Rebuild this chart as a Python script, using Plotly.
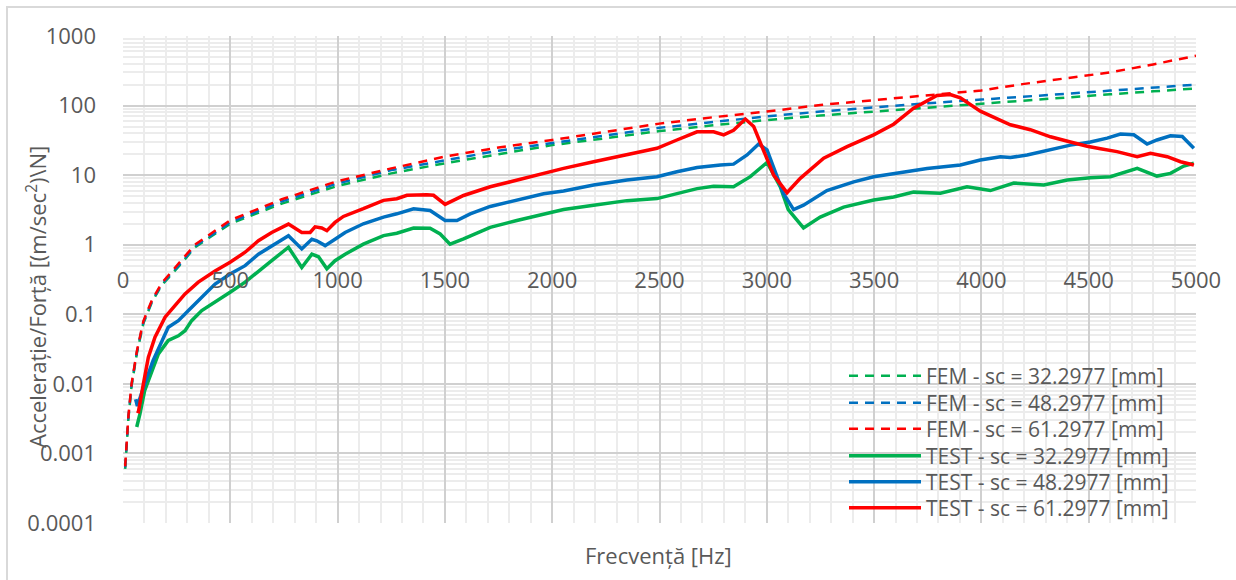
import plotly.graph_objects as go

# ---------------- data ----------------
fem_f = [10, 25, 40, 65, 95, 135, 180, 275, 335, 500, 740, 1000, 1250, 1500, 1750,
         2000, 2250, 2500, 2750, 3000, 3250, 3500, 3750, 4000, 4200, 4400, 4600, 4800, 5000]
fem_32 = [0.0006, 0.0031, 0.0094, 0.028, 0.074, 0.15, 0.26, 0.55, 0.92, 2.0, 3.9, 7.0, 10.6,
          14.8, 20, 27, 34, 43, 52, 62, 72, 82, 95, 108, 118, 131, 145, 160, 176]
fem_48 = [0.00063, 0.0033, 0.0098, 0.029, 0.077, 0.155, 0.27, 0.57, 0.95, 2.1, 4.2, 7.6, 11.8,
          16.5, 22.5, 29, 37, 48, 58, 70, 82, 95, 108, 122, 133, 148, 164, 182, 200]
fem_61 = [0.00065, 0.0034, 0.010, 0.030, 0.08, 0.16, 0.28, 0.6, 1.0, 2.25, 4.5, 8.2, 12.5,
          18.5, 25, 32, 42, 55, 68, 82, 102, 120, 143, 165, 205, 245, 300, 390, 520]

test32_f = [64, 79, 101, 134, 165, 211, 258, 289, 320, 367, 429, 499, 569, 631, 693, 771, 833,
            880, 911, 950, 988, 1035, 1120, 1214, 1276, 1354, 1431, 1478, 1524, 1587, 1711, 1835,
            1960, 2053, 2193, 2348, 2488, 2581, 2675, 2752, 2845, 2923, 3001, 3063, 3100, 3171,
            3249, 3358, 3498, 3591, 3684, 3809, 3933, 4042, 4151, 4291, 4400, 4508, 4601, 4726,
            4818, 4881, 4943, 4990]
test32_v = [0.0024, 0.0037, 0.008, 0.0155, 0.027, 0.042, 0.049, 0.058, 0.081, 0.113, 0.148, 0.207,
            0.29, 0.42, 0.59, 0.92, 0.47, 0.73, 0.67, 0.45, 0.59, 0.73, 1.02, 1.35, 1.46, 1.74,
            1.73, 1.43, 1.02, 1.21, 1.78, 2.23, 2.78, 3.2, 3.7, 4.3, 4.6, 5.5, 6.4, 6.9, 6.8, 9.5,
            15.2, 6.8, 3.2, 1.74, 2.49, 3.47, 4.4, 4.85, 5.7, 5.5, 6.8, 6.0, 7.7, 7.2, 8.5, 9.2,
            9.5, 12.5, 9.7, 10.6, 13.5, 14.8]

test48_f = [59, 67, 101, 140, 211, 258, 305, 367, 429, 499, 569, 631, 693, 771, 833, 880, 903,
            942, 988, 1035, 1120, 1214, 1276, 1354, 1431, 1501, 1556, 1618, 1711, 1835, 1960,
            2053, 2193, 2348, 2488, 2581, 2675, 2784, 2845, 2908, 2962, 3001, 3047, 3078, 3125,
            3171, 3280, 3405, 3498, 3591, 3747, 3902, 3995, 4089, 4135, 4213, 4322, 4415, 4508,
            4586, 4648, 4710, 4772, 4818, 4881, 4936, 4990]
test48_v = [0.006, 0.0048, 0.01, 0.0216, 0.065, 0.081, 0.113, 0.175, 0.272, 0.38, 0.50, 0.73,
            0.97, 1.35, 0.87, 1.2, 1.14, 0.97, 1.2, 1.5, 2.0, 2.49, 2.78, 3.29, 3.1, 2.23, 2.23,
            2.78, 3.55, 4.34, 5.4, 5.9, 7.2, 8.5, 9.5, 11.2, 12.9, 14, 14.4, 19.5, 28, 23, 9.5,
            5.4, 3.2, 3.7, 6.0, 8.0, 9.5, 10.6, 12.5, 14, 16.5, 18.4, 17.9, 19.5, 23, 27, 30,
            34, 39, 38, 28, 32, 36.7, 36, 24.3]

test61_f = [64, 72, 95, 118, 149, 196, 242, 289, 351, 429, 499, 569, 631, 693, 771, 833, 872,
            895, 926, 950, 988, 1027, 1120, 1214, 1276, 1323, 1416, 1447, 1501, 1587, 1711, 1835,
            1960, 2053, 2193, 2348, 2488, 2581, 2675, 2752, 2799, 2845, 2900, 2939, 2985, 3032,
            3094, 3156, 3265, 3374, 3498, 3591, 3684, 3793, 3855, 3902, 3995, 4042, 4135, 4228,
            4322, 4415, 4493, 4555, 4632, 4726, 4788, 4866, 4928, 4990]
test61_v = [0.0041, 0.0040, 0.01, 0.024, 0.047, 0.091, 0.133, 0.196, 0.29, 0.42, 0.56, 0.78,
            1.14, 1.5, 1.98, 1.5, 1.5, 1.81, 1.74, 1.59, 2.09, 2.55, 3.29, 4.34, 4.58, 5.13,
            5.24, 5.13, 3.8, 5.1, 6.8, 8.5, 10.5, 12.5, 15.6, 19.5, 24.3, 32, 42, 42, 38, 44,
            64, 50, 22, 10, 5.6, 9, 17.5, 25.7, 38, 54, 92, 140, 144, 129, 83, 72, 53, 45,
            35.6, 30, 26, 24, 21.8, 18.4, 20.6, 18.4, 15.6, 14]

names = ["FEM - sc = 32.2977 [mm]", "FEM - sc = 48.2977 [mm]", "FEM - sc = 61.2977 [mm]",
         "TEST - sc = 32.2977 [mm]", "TEST - sc = 48.2977 [mm]", "TEST - sc = 61.2977 [mm]"]
y_ticks = [0.0001, 0.001, 0.01, 0.1, 1, 10, 100, 1000]
y_tick_text = ["0.0001", "0.001", "0.01", "0.1", "1", "10", "100", "1000"]

GREEN, BLUE, RED = "#00B050", "#0070C0", "#FF0000"
FONT = "Open Sans"
TXT = "#595959"

# plot-area geometry in pixels (for placing paper-referenced items)
L, R, T, B = 123, 1196, 36, 523
PW, PH = R - L, B - T


def px_x(x):
    return (x - L) / PW


def px_y(y):
    return (B - y) / PH


legend_ids = ["legend", "legend2", "legend3", "legend4", "legend5", "legend6"]
legend_rows = [376, 403, 429, 456, 482, 508]

fig = go.Figure()
series = [(fem_f, fem_32, GREEN, True), (fem_f, fem_48, BLUE, True), (fem_f, fem_61, RED, True),
          (test32_f, test32_v, GREEN, False), (test48_f, test48_v, BLUE, False),
          (test61_f, test61_v, RED, False)]
for i, (f, v, c, dashed) in enumerate(series):
    line = dict(color=c, width=2.5, dash="9px,7px") if dashed else dict(color=c, width=3.5)
    fig.add_trace(go.Scatter(x=f, y=v, mode="lines", name=names[i], line=line,
                             legend=legend_ids[i]))

legends = {}
for lid, yc in zip(legend_ids, legend_rows):
    legends[lid] = dict(x=px_x(844), y=px_y(yc), xanchor="left", yanchor="middle",
                        bgcolor="rgba(0,0,0,0)", font=dict(size=21, color=TXT, family=FONT),
                        itemwidth=72, borderwidth=0)

fig.update_layout(
    width=1236, height=580,
    margin=dict(l=L, r=1236 - R, t=T, b=580 - B),
    paper_bgcolor="white", plot_bgcolor="white",
    font=dict(family=FONT, color=TXT, size=21),
    showlegend=True,
    xaxis=dict(range=[0, 5000], dtick=500, tick0=0, anchor="free", position=4 / 7,
               showgrid=True, gridcolor="#D0D0D0", gridwidth=1.5,
               minor=dict(dtick=100, showgrid=True, gridcolor="#ECECEC", gridwidth=1.5),
               zeroline=False, showline=False, ticks="",
               tickfont=dict(size=22, color=TXT), ticklabelstandoff=20),
    yaxis=dict(type="log", range=[-4, 3], tickvals=y_ticks, ticktext=y_tick_text,
               showgrid=True, gridcolor="#D0D0D0", gridwidth=1.5,
               minor=dict(dtick="D1", showgrid=True, gridcolor="#ECECEC", gridwidth=1.5),
               zeroline=False, showline=False, ticks="",
               tickfont=dict(size=22, color=TXT), ticklabelstandoff=26),
    shapes=[dict(type="rect", xref="paper", yref="paper",
                 x0=px_x(7), x1=px_x(1245), y0=px_y(595), y1=px_y(7),
                 line=dict(color="#D9D9D9", width=2), layer="below")],
    annotations=[
        dict(text="Frecvență [Hz]", xref="paper", yref="paper",
             x=px_x(658), y=px_y(555), showarrow=False,
             xanchor="center", yanchor="middle", font=dict(size=22, color=TXT)),
        dict(text="Accelerație/Forță [(m/sec<sup>2</sup>)\\N]", xref="paper", yref="paper",
             x=px_x(36), y=px_y(297), showarrow=False, textangle=-90,
             xanchor="center", yanchor="middle", font=dict(size=22, color=TXT)),
    ],
    **legends,
)

fig.write_html("out.html")
